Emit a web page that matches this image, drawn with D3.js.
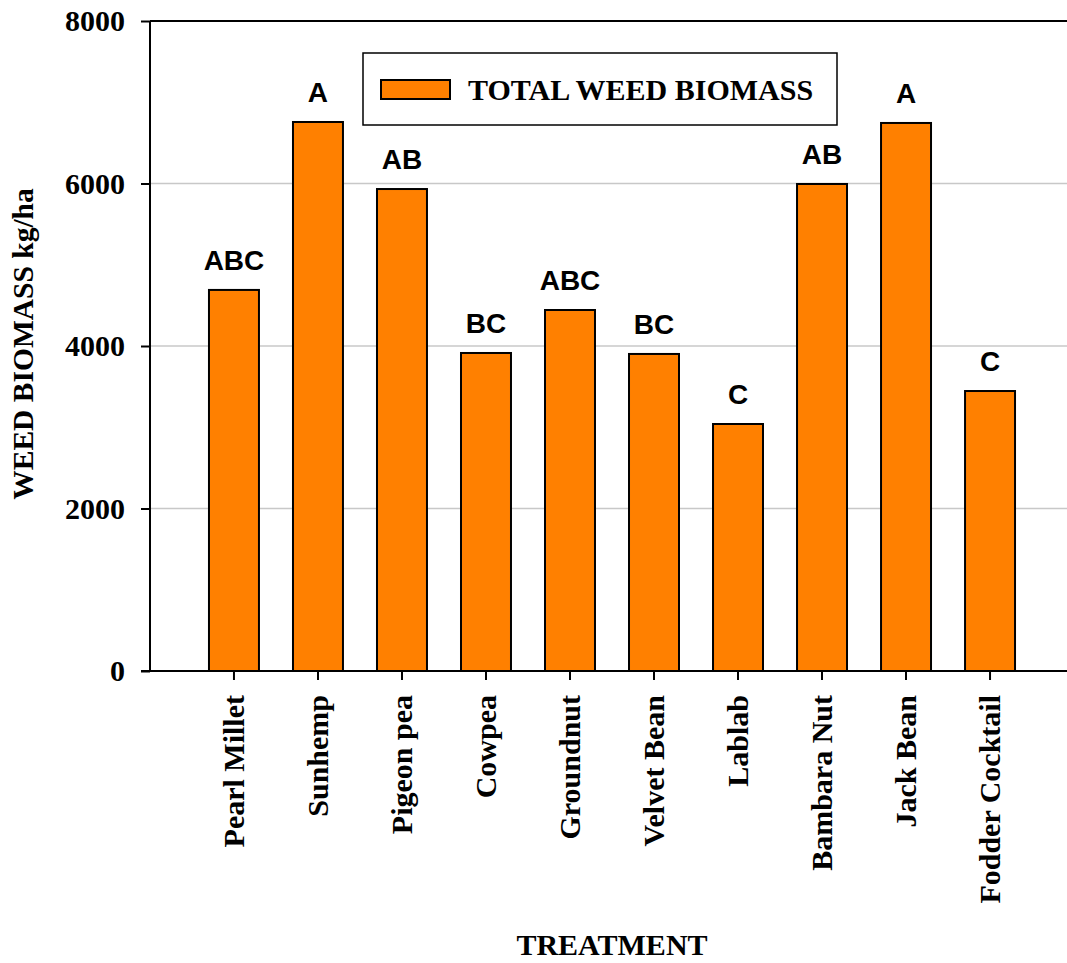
<!DOCTYPE html>
<html>
<head>
<meta charset="utf-8">
<script src="https://cdn.jsdelivr.net/npm/d3@7/dist/d3.min.js"></script>
<style>
  html, body { margin: 0; padding: 0; background: #fff; }
  svg { display: block; }
</style>
</head>
<body>
<svg id="chart" width="1067" height="963"></svg>
<script>
// weed biomass per treatment
const treatments = ['Pearl Millet', 'Sunhemp', 'Pigeon pea', 'Cowpea', 'Groundnut',
  'Velvet Bean', 'Lablab', 'Bambara Nut', 'Jack Bean', 'Fodder Cocktail'];
const biomass = [4690, 6757, 5932, 3914, 4443, 3902, 3040, 5994, 6745, 3446];
const letters = ['ABC', 'A', 'AB', 'BC', 'ABC', 'BC', 'C', 'AB', 'A', 'C'];
const yTicks = [0, 2000, 4000, 6000, 8000];
const seriesName = 'TOTAL WEED BIOMASS';

const serif = '"Liberation Serif", "Times New Roman", serif';
const sans = '"Liberation Sans", Arial, sans-serif';
const ORANGE = '#ff8000';

const svg = d3.select('#chart');
const pL = 150, pR = 1074, pT = 21, pB = 671;

const x = d3.scaleBand().domain(treatments).range([pL, pR])
  .paddingInner(0.405).paddingOuter(0.702);
const y = d3.scaleLinear().domain([0, 8000]).range([pB, pT]);

// grid lines (behind the bars)
svg.append('g').selectAll('line').data(yTicks.filter((t) => t > 0 && t < 8000)).join('line')
  .attr('x1', pL).attr('x2', pR).attr('y1', (d) => y(d)).attr('y2', (d) => y(d))
  .attr('stroke', '#c8c8c8').attr('stroke-width', 1.5);

// top frame line
svg.append('line').attr('x1', pL).attr('x2', pR).attr('y1', y(8000)).attr('y2', y(8000))
  .attr('stroke', '#000').attr('stroke-width', 2);

// bars
svg.append('g').selectAll('rect').data(treatments).join('rect')
  .attr('x', (d) => x(d)).attr('width', x.bandwidth())
  .attr('y', (d, i) => y(biomass[i])).attr('height', (d, i) => y(0) - y(biomass[i]))
  .attr('fill', ORANGE).attr('stroke', '#000').attr('stroke-width', 2);

// significance letters
svg.append('g').selectAll('text').data(treatments).join('text')
  .attr('x', (d) => x(d) + x.bandwidth() / 2).attr('y', (d, i) => y(biomass[i]) - 20)
  .attr('text-anchor', 'middle').attr('font-family', sans).attr('font-weight', 'bold')
  .attr('font-size', 28).attr('fill', '#000').text((d, i) => letters[i]);

// y axis
const yAxis = svg.append('g').attr('transform', `translate(${pL},0)`)
  .call(d3.axisLeft(y).tickValues(yTicks).tickSize(9).tickPadding(16).tickFormat(d3.format('d')));
yAxis.select('.domain').attr('stroke-width', 2).attr('d', `M0,${pT}V${pB}`);
yAxis.selectAll('.tick line').attr('stroke-width', 2);
yAxis.selectAll('.tick text').attr('font-family', serif).attr('font-weight', 'bold')
  .attr('font-size', 30).attr('fill', '#000');

// x axis
const xAxis = svg.append('g').attr('transform', `translate(0,${pB})`)
  .call(d3.axisBottom(x).tickSize(9).tickSizeOuter(0));
xAxis.select('.domain').attr('stroke-width', 2).attr('d', `M${pL - 9},0H${pR}`);
xAxis.selectAll('.tick line').attr('stroke-width', 2);
xAxis.selectAll('.tick text')
  .attr('font-family', serif).attr('font-weight', 'bold').attr('font-size', 30).attr('fill', '#000')
  .attr('transform', 'rotate(-90)').attr('text-anchor', 'end')
  .attr('x', -24).attr('y', 0).attr('dy', '0.33em');

// axis titles
svg.append('text').attr('x', (pL + pR) / 2).attr('y', 955).attr('text-anchor', 'middle')
  .attr('font-family', serif).attr('font-weight', 'bold').attr('font-size', 30).text('TREATMENT');
svg.append('text').attr('transform', 'translate(33,344) rotate(-90)').attr('text-anchor', 'middle')
  .attr('font-family', serif).attr('font-weight', 'bold').attr('font-size', 29.5).text('WEED BIOMASS kg/ha');

// legend
const lg = svg.append('g');
lg.append('rect').attr('x', 363).attr('y', 53).attr('width', 474).attr('height', 72)
  .attr('fill', '#fff').attr('stroke', '#000').attr('stroke-width', 1.5);
lg.append('rect').attr('x', 381).attr('y', 80).attr('width', 69).attr('height', 19)
  .attr('fill', ORANGE).attr('stroke', '#000').attr('stroke-width', 2);
lg.append('text').attr('x', 468).attr('y', 100).attr('font-family', serif).attr('font-weight', 'bold')
  .attr('font-size', 30).text(seriesName);
</script>
</body>
</html>
